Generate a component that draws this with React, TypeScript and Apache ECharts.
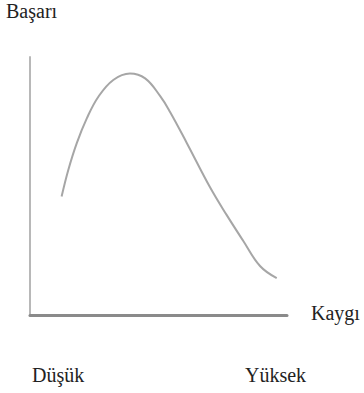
import React, { useEffect, useRef } from "react";
import * as echarts from "echarts";

const kaygi: number[] = [12.3, 14.9, 18.2, 22.1, 26.6, 32.4, 38.9, 44.8, 50.6, 54.5, 61.0, 70.0, 76.5, 83.0, 89.5, 96.0];
const basari: number[] = [45.9, 56.2, 66.6, 76.2, 84.6, 91.1, 93.6, 91.7, 84.9, 78.7, 66.7, 49.6, 38.8, 28.7, 19.0, 14.3];
const yTitle = "Başarı";
const xTitle = "Kaygı";
const xLabels: string[] = ["Düşük", "Yüksek"];

export default function App() {
  const ref = useRef<HTMLDivElement>(null);
  useEffect(() => {
    if (!ref.current) return;
    const chart = echarts.init(ref.current, null, { renderer: "svg" });
    const ts = {
      fontFamily: "Liberation Serif",
      fontSize: 20,
      fontWeight: "normal" as const,
      color: "#222222",
    };
    chart.setOption({
      animation: false,
      backgroundColor: "#ffffff",
      title: [
        { text: yTitle, left: 6, top: 1, padding: 0, textStyle: ts },
        { text: xTitle, left: 311, top: 303, padding: 0, textStyle: ts },
        { text: xLabels[0], left: 32, top: 365, padding: 0, textStyle: ts },
        { text: xLabels[1], left: 245, top: 365, padding: 0, textStyle: ts },
      ],
      grid: { left: 30, right: 77, top: 57, bottom: 78 },
      xAxis: {
        type: "value",
        min: 0,
        max: 100,
        axisLine: { show: true, lineStyle: { color: "#8a8a8a", width: 3 } },
        axisTick: { show: false },
        axisLabel: { show: false },
        splitLine: { show: false },
      },
      yAxis: {
        type: "value",
        min: 0,
        max: 100,
        axisLine: { show: true, lineStyle: { color: "#b8b8b8", width: 2 } },
        axisTick: { show: false },
        axisLabel: { show: false },
        splitLine: { show: false },
      },
      series: [
        {
          type: "line",
          smooth: 0.4,
          showSymbol: false,
          lineStyle: { color: "#a6a6a6", width: 2 },
          data: kaygi.map((x, i) => [x, basari[i]]),
        },
      ],
    });
    return () => chart.dispose();
  }, []);
  return (
    <div
      ref={ref}
      style={{ position: "fixed", left: 0, top: 0, width: 364, height: 393 }}
    />
  );
}
